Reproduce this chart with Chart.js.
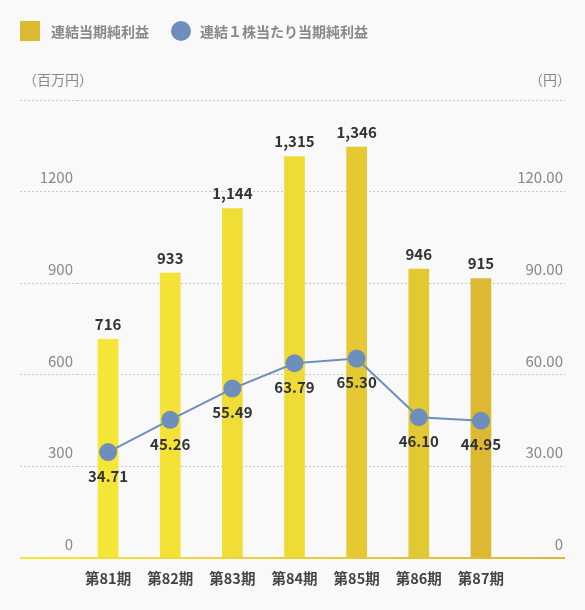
<!DOCTYPE html>
<html lang="ja">
<head>
<meta charset="utf-8">
<script src="https://cdn.jsdelivr.net/npm/chart.js@4.4.1/dist/chart.umd.min.js"></script>
<style>
  body { margin: 0; background: #f9f9f9; font-family: "Noto Sans CJK JP", sans-serif; }
  #wrap { position: relative; width: 585px; height: 610px; }
  #legend { position: absolute; left: 20px; top: 21px; display: flex; gap: 22px; }
  .item { display: flex; align-items: center; height: 20px; font-size: 14px; font-weight: bold; color: #888; }
  .swatch { width: 20px; height: 20px; }
</style>
</head>
<body>
<div id="wrap">
  <canvas id="chart" width="585" height="610"></canvas>
  <div id="legend"></div>
</div>
<script>
const categories = ['第81期', '第82期', '第83期', '第84期', '第85期', '第86期', '第87期'];
const netIncome = [716, 933, 1144, 1315, 1346, 946, 915];        // 百万円
const eps = [34.71, 45.26, 55.49, 63.79, 65.30, 46.10, 44.95];    // 円
const seriesNames = ['連結当期純利益', '連結１株当たり当期純利益'];
const unitLeft = '（百万円）';
const unitRight = '（円）';

const FONT = '"Noto Sans CJK JP", sans-serif';
const barColors = ['#f6e637', '#f4e236', '#f0dd36', '#eedb36', '#e4c933', '#e3c833', '#dcb833'];
const lineColor = '#6e8fbb';
const gridColor = '#c6c6c6';

// tick labels above gridlines, unit titles, yellow baseline
const axisText = {
  id: 'axisText',
  afterDraw(chart) {
    const { ctx, scales: { y, y1 } } = chart;
    ctx.save();
    ctx.font = '15px ' + FONT;
    ctx.fillStyle = '#888';
    ctx.textAlign = 'right';
    ctx.textBaseline = 'middle';
    y.ticks.forEach(t => {
      if (t.value < y.max) ctx.fillText(String(t.value), y.right - 4, y.getPixelForValue(t.value) - 14);
    });
    y1.ticks.forEach(t => {
      if (t.value < y1.max) ctx.fillText(t.value === 0 ? '0' : t.value.toFixed(2), y1.right - 2, y1.getPixelForValue(t.value) - 14);
    });
    ctx.font = '14px ' + FONT;
    ctx.textAlign = 'left';
    ctx.fillText(unitLeft, y.left + 3, 80);
    ctx.textAlign = 'right';
    ctx.fillText(unitRight, y1.right + 6, 80);

    const base = y.getPixelForValue(0);
    const g = ctx.createLinearGradient(y.left, 0, y1.right, 0);
    g.addColorStop(0, '#f6e637');
    g.addColorStop(1, '#dcb833');
    ctx.strokeStyle = g;
    ctx.lineWidth = 2;
    ctx.beginPath();
    ctx.moveTo(y.left, base);
    ctx.lineTo(y1.right, base);
    ctx.stroke();
    ctx.restore();
  }
};

const valueLabels = {
  id: 'valueLabels',
  afterDatasetsDraw(chart) {
    const ctx = chart.ctx;
    ctx.save();
    ctx.font = 'bold 15px ' + FONT;
    ctx.fillStyle = '#333';
    ctx.textAlign = 'center';
    ctx.textBaseline = 'middle';
    chart.getDatasetMeta(0).data.forEach((bar, i) => {
      ctx.fillText(netIncome[i].toLocaleString('en-US'), bar.x, bar.y - 15);
    });
    chart.getDatasetMeta(1).data.forEach((pt, i) => {
      ctx.fillText(eps[i].toFixed(2), pt.x, pt.y + 24);
    });
    ctx.restore();
  }
};

const gridLine = c => c.tick && c.tick.value === 0 ? 'rgba(0,0,0,0)' : gridColor;

const chart = new Chart(document.getElementById('chart'), {
  data: {
    labels: categories,
    datasets: [
      {
        type: 'bar',
        label: seriesNames[0],
        data: netIncome,
        yAxisID: 'y',
        backgroundColor: barColors,
        barThickness: 20,
        order: 1
      },
      {
        type: 'line',
        label: seriesNames[1],
        data: eps,
        yAxisID: 'y1',
        borderColor: lineColor,
        borderWidth: 2,
        backgroundColor: lineColor,
        pointBackgroundColor: lineColor,
        pointBorderWidth: 0,
        pointRadius: 9,
        tension: 0,
        order: 0
      }
    ]
  },
  options: {
    responsive: false,
    animation: false,
    events: [],
    layout: { padding: { left: 20, right: 20, top: 100, bottom: 0 } },
    plugins: { legend: { display: false }, tooltip: { enabled: false } },
    scales: {
      x: {
        grid: { display: false },
        border: { display: false },
        ticks: { color: '#444', padding: 4, font: { family: FONT, size: 14.5, weight: 'bold' } },
        afterFit(s) { s.height = 52; }
      },
      y: {
        position: 'left',
        min: 0,
        max: 1500,
        ticks: { stepSize: 300, display: false },
        grid: { color: gridLine, tickColor: gridLine, drawTicks: true, tickLength: 57, tickBorderDash: [2, 2] },
        border: { display: false, dash: [2, 2] },
        afterFit(s) { s.width = 57; }
      },
      y1: {
        position: 'right',
        min: 0,
        max: 150,
        ticks: { stepSize: 30, display: false },
        grid: { drawOnChartArea: false, color: gridLine, tickColor: gridLine, drawTicks: true, tickLength: 53, tickBorderDash: [2, 2] },
        border: { display: false },
        afterFit(s) { s.width = 53; }
      }
    }
  },
  plugins: [axisText, valueLabels]
});

// legend as html
const legend = document.getElementById('legend');
chart.data.datasets.forEach(ds => {
  const item = document.createElement('div');
  item.className = 'item';
  const sw = document.createElement('span');
  sw.className = 'swatch';
  const txt = document.createElement('span');
  txt.textContent = ds.label;
  if (ds.type === 'bar') {
    sw.style.background = '#dcbb32';
    txt.style.marginLeft = '11px';
  } else {
    sw.style.background = ds.borderColor;
    sw.style.borderRadius = '50%';
    txt.style.marginLeft = '9px';
  }
  item.appendChild(sw);
  item.appendChild(txt);
  legend.appendChild(item);
});
</script>
</body>
</html>
